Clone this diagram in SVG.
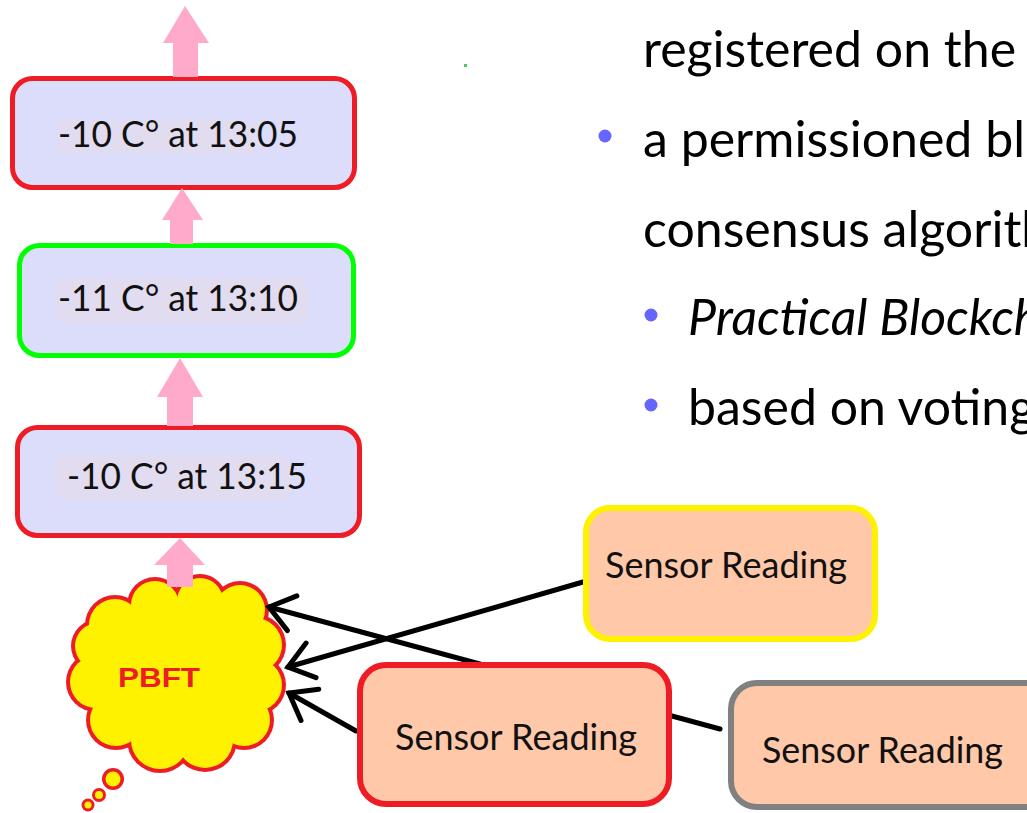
<svg xmlns="http://www.w3.org/2000/svg" width="1027" height="813" viewBox="0 0 1027 813">
<style>
.blk{fill:#dcdcfb;stroke-width:5}
.hl{fill:#e2dcf0}
.btxt{font-family:Lato,"Liberation Sans",sans-serif;font-size:36px;fill:#111}
.sns{fill:#fec8a9;stroke-width:6}
.stxt{font-family:Lato,"Liberation Sans",sans-serif;font-size:37px;fill:#111}
.pink{fill:#ffaacb}
.wire{fill:none;stroke:#000;stroke-width:5;stroke-linecap:round}
.body{font-family:Lato,"Liberation Sans",sans-serif;font-size:50px;fill:#000}
.bul{fill:#6666ff}
</style>
<defs>
<marker id="open" markerUnits="userSpaceOnUse" markerWidth="60" markerHeight="60" refX="0" refY="0" viewBox="-40 -30 60 60" orient="auto">
<path d="M-24,-18 L0,0 L-24,18" fill="none" stroke="#000" stroke-width="5" stroke-linecap="round" stroke-linejoin="miter"/>
</marker>
</defs>
<rect width="1027" height="813" fill="#fff"/>

<!-- text on right -->
<g id="bullets">
<text class="body" x="643" y="67">registered on the</text>
<circle class="bul" cx="605" cy="136" r="6.5"/>
<text class="body" x="643" y="157">a permissioned blo</text>
<text class="body" x="643" y="247">consensus algorithm</text>
<circle class="bul" cx="651" cy="315" r="6.5"/>
<text class="body" x="688" y="335" font-style="italic">Practical Blockcha</text>
<circle class="bul" cx="651" cy="405" r="6.5"/>
<text class="body" x="688" y="425">based on voting</text>
</g>
<rect x="464" y="64" width="3" height="3" fill="#44cc66"/>

<!-- blocks -->
<g id="block1305">
<rect class="blk" x="12.5" y="78.5" width="342" height="109" rx="20" stroke="#ee1c24"/>
<rect class="hl" x="58" y="120" width="198" height="33" rx="6"/>
<text class="btxt" x="58" y="147" textLength="240" lengthAdjust="spacingAndGlyphs">-10 C° at 13:05</text>
</g>
<g id="block1310">
<rect class="blk" x="19.5" y="245.5" width="334" height="110" rx="20" stroke="#00ff00"/>
<rect class="hl" x="56" y="278" width="252" height="45" rx="12"/>
<text class="btxt" x="58" y="311" textLength="240" lengthAdjust="spacingAndGlyphs">-11 C° at 13:10</text>
</g>
<g id="block1315">
<rect class="blk" x="17.5" y="427.5" width="342" height="108" rx="20" stroke="#ee1c24"/>
<rect class="hl" x="55" y="455" width="235" height="45" rx="12"/>
<text class="btxt" x="67" y="489" textLength="240" lengthAdjust="spacingAndGlyphs">-10 C° at 13:15</text>
</g>

<!-- cloud -->
<g id="pbft">
<g fill="#ee1c24">
<circle cx="115" cy="625" r="30"/>
<circle cx="155" cy="605" r="28"/>
<circle cx="200" cy="601" r="27"/>
<circle cx="240" cy="610" r="29"/>
<circle cx="255" cy="645" r="31"/>
<circle cx="256" cy="685" r="30"/>
<circle cx="244" cy="720" r="30"/>
<circle cx="205" cy="740" r="32"/>
<circle cx="160" cy="740" r="33"/>
<circle cx="116" cy="720" r="30"/>
<circle cx="96" cy="682" r="30"/>
<circle cx="98" cy="646" r="27"/>
<circle cx="113" cy="779" r="11"/>
<circle cx="99" cy="795" r="7"/>
<circle cx="88" cy="805" r="6.5"/>
</g>
<g fill="#fff200">
<circle cx="115" cy="625" r="26"/>
<circle cx="155" cy="605" r="24"/>
<circle cx="200" cy="601" r="23"/>
<circle cx="240" cy="610" r="25"/>
<circle cx="255" cy="645" r="27"/>
<circle cx="256" cy="685" r="26"/>
<circle cx="244" cy="720" r="26"/>
<circle cx="205" cy="740" r="28"/>
<circle cx="160" cy="740" r="29"/>
<circle cx="116" cy="720" r="26"/>
<circle cx="96" cy="682" r="26"/>
<circle cx="98" cy="646" r="23"/>
<ellipse cx="177" cy="672" rx="88" ry="75"/>
<circle cx="113" cy="779" r="7.5"/>
<circle cx="99" cy="795" r="4"/>
<circle cx="88" cy="805" r="3.5"/>
</g>
<text x="118" y="687" font-family="'Liberation Sans',Arial,sans-serif" font-weight="bold" font-size="28" fill="#ee1c24" textLength="82" lengthAdjust="spacingAndGlyphs">PBFT</text>
</g>

<!-- connectors -->
<g id="connectors">
<polygon class="pink" points="185,6 209,43 198,43 198,77 173,77 173,43 163,43"/>
<polygon class="pink" points="182,188 203,220 193,220 193,244 170,244 170,220 162,220"/>
<polygon class="pink" points="180,358 203,397 193,397 193,426 167,426 167,397 157,397"/>
<polygon class="pink" points="180,538 205,565 193,565 193,587 167,587 167,565 154,565"/>
<line class="wire" x1="720" y1="729" x2="269" y2="607" marker-end="url(#open)"/>
<line class="wire" x1="583" y1="582" x2="288" y2="667" marker-end="url(#open)"/>
<line class="wire" x1="356" y1="731" x2="289" y2="693" marker-end="url(#open)"/>
</g>

<!-- sensor readings -->
<g id="sensorYellow">
<rect class="sns" x="586" y="508" width="289" height="131" rx="24" stroke="#fff200"/>
<text class="stxt" x="605" y="578" textLength="242" lengthAdjust="spacingAndGlyphs">Sensor Reading</text>
</g>
<g id="sensorRed">
<rect class="sns" x="360" y="665" width="309" height="139" rx="26" stroke="#ee1c24"/>
<text class="stxt" x="395" y="750" textLength="242" lengthAdjust="spacingAndGlyphs">Sensor Reading</text>
</g>
<g id="sensorGrey">
<rect class="sns" x="731" y="683" width="320" height="124" rx="26" stroke="#808080"/>
<text class="stxt" x="762" y="763" textLength="241" lengthAdjust="spacingAndGlyphs">Sensor Reading</text>
</g>
</svg>
